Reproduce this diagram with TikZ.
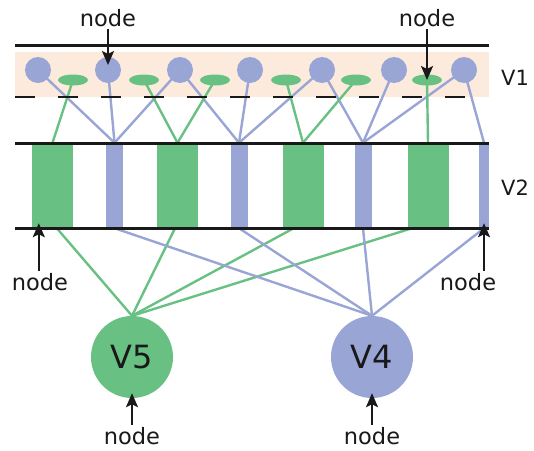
\documentclass[tikz,border=0pt]{standalone}
\usepackage{fontspec}
\setmainfont{DejaVu Sans}
\usetikzlibrary{shapes.geometric,arrows.meta}
\definecolor{cellgreen}{RGB}{104,193,131}
\definecolor{cellblue}{RGB}{153,165,213}
\definecolor{bandbeige}{RGB}{252,235,220}
\definecolor{ink}{RGB}{25,25,25}
\pgfdeclarelayer{back}
\pgfdeclarelayer{wires}
\pgfsetlayers{back,wires,main}
\begin{document}
\begin{tikzpicture}[x=1pt,y=-1pt,
  dot/.style={circle,fill=cellblue,minimum size=26pt,inner sep=0pt},
  blob/.style={ellipse,fill=cellgreen,minimum width=30pt,minimum height=11pt,inner sep=0pt},
  gbar/.style={rectangle,fill=cellgreen,minimum width=41pt,minimum height=85pt,inner sep=0pt},
  bbar/.style={rectangle,fill=cellblue,minimum width=17pt,minimum height=85pt,inner sep=0pt},
  gwire/.style={draw=cellgreen,line width=2.4pt},
  bwire/.style={draw=cellblue,line width=2.4pt},
  rule/.style={draw=ink,line width=3pt},
  tag/.style={text=ink,font=\fontsize{22.5}{27}\selectfont,inner sep=2pt},
  area/.style={text=ink,font=\fontsize{21}{25}\selectfont,inner sep=0pt},
  pointer/.style={draw=ink,line width=2.3pt,-{Stealth[length=14pt,width=12pt,inset=3pt]}},
  bigcell/.style={circle,minimum size=82pt,inner sep=0pt,text=ink,font=\fontsize{32}{38}\selectfont}
]
\useasboundingbox (0,0) rectangle (534,450);

% shaded band of layer V1
\begin{pgfonlayer}{back}
  \fill[bandbeige] (15,52) rectangle (489,97);
\end{pgfonlayer}

% layer V1: round cells and flat cells
\node[dot] (c1) at (38,70) {};
\node[dot] (c2) at (108,70) {};
\node[dot] (c3) at (180,70) {};
\node[dot] (c4) at (250,70) {};
\node[dot] (c5) at (322,70) {};
\node[dot] (c6) at (394,70) {};
\node[dot] (c7) at (464,70) {};
\node[blob] (e1) at (73,80) {};
\node[blob] (e2) at (144,80) {};
\node[blob] (e3) at (215,80) {};
\node[blob] (e4) at (286,80) {};
\node[blob] (e5) at (356,80) {};
\node[blob] (e6) at (427,80) {};

% layer V2: stripes
\node[gbar] (g1) at (52.5,185.5) {};
\node[bbar] (b1) at (114.5,185.5) {};
\node[gbar] (g2) at (177.5,185.5) {};
\node[bbar] (b2) at (239,185.5) {};
\node[gbar] (g3) at (303,185.5) {};
\node[bbar] (b3) at (363,185.5) {};
\node[gbar] (g4) at (428,185.5) {};
\node[bbar,minimum width=10pt] (b4) at (484,185.5) {};

% target areas
\node[bigcell,fill=cellgreen] (v5) at (132,357) {V5};
\node[bigcell,fill=cellblue] (v4) at (372,357) {V4};

% projections
\begin{pgfonlayer}{wires}
  \draw[bwire] (c1.center) -- (b1.north);
  \draw[bwire] (c2.center) -- (b1.north);
  \draw[bwire] (c3.center) -- (b1.north);
  \draw[bwire] (c3.center) -- (b2.north);
  \draw[bwire] (c4.center) -- (b2.north);
  \draw[bwire] (c5.center) -- (b2.north);
  \draw[bwire] (c5.center) -- (b3.north);
  \draw[bwire] (c6.center) -- (b3.north);
  \draw[bwire] (c7.center) -- (b3.north);
  \draw[bwire] (c7.center) -- (b4.north);
  \draw[gwire] (e1.center) -- (g1.north);
  \draw[gwire] (e2.center) -- (g2.north);
  \draw[gwire] (e3.center) -- (g2.north);
  \draw[gwire] (e4.center) -- (g3.north);
  \draw[gwire] (e5.center) -- (g3.north);
  \draw[gwire] (e6.center) -- (g4.north);
  \foreach \g in {g1,g2,g3,g4}
    \draw[gwire] ([yshift=5pt]\g.south) -- (v5.north);
  \foreach \b in {b1,b2,b3,b4}
    \draw[bwire] (\b.south) -- (v4.north);
\end{pgfonlayer}

% layer boundaries
\draw[rule] (15,45) -- (489,45);
\draw[draw=ink,line width=2.5pt,dash pattern=on 20pt off 23pt] (15,97) -- (470,97);
\draw[rule] (15,143) -- (489,143);
\draw[rule] (15,228) -- (489,228);

\node[area] (l1) at (515,78) {V1};
\node[area] (l2) at (515,188) {V2};

% pointers
\node[tag] (t1) at (108,18) {node};
\node[tag] (t2) at (427,18) {node};
\node[tag] (t3) at (40,282) {node};
\node[tag] (t4) at (468,282) {node};
\node[tag] (t5) at (132,436) {node};
\node[tag] (t6) at (372,436) {node};
\coordinate (tg1) at ([xshift=7pt,yshift=5pt]g1.south west);
\draw[pointer] (t1.south) -- ([yshift=5pt]c2.center);
\draw[pointer] (t2.south) -- (e6.center);
\draw[pointer] (t3.north -| tg1) -- (tg1);
\draw[pointer] (t4.north -| b4.south) -- ([yshift=5pt]b4.south);
\draw[pointer] (t5.north) -- ([yshift=5pt]v5.south);
\draw[pointer] (t6.north) -- ([yshift=5pt]v4.south);
\end{tikzpicture}
\end{document}
